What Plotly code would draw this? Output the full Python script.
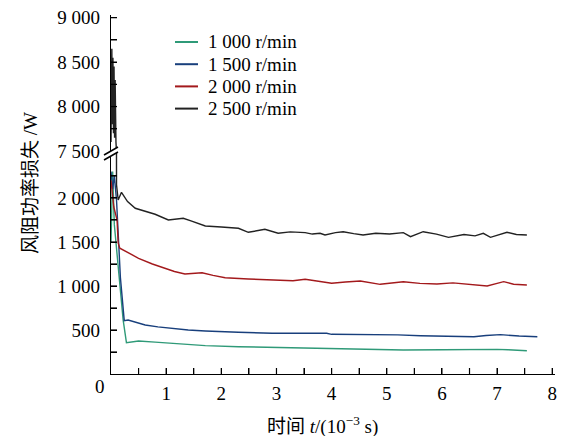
import plotly.graph_objects as go

# ---- data (time in 1e-3 s, power loss in W) ----
t_1000 = [0, 0.03, 0.06, 0.09, 0.16, 0.22, 0.28, 0.32, 0.5, 0.8, 1.1, 1.4, 1.71, 2.31, 2.92, 3.5, 4.0, 4.6, 5.3, 6.0, 6.64, 6.82, 7.0, 7.2, 7.54]
p_1000 = [1500, 2300, 1700, 1480, 1050, 614, 356, 360, 375, 362, 349, 335, 322, 310, 303, 295, 284, 280, 273, 276, 281, 287, 280, 275, 265]

t_1500 = [0, 0.03, 0.06, 0.1, 0.17, 0.24, 0.31, 0.45, 0.62, 0.85, 1.1, 1.4, 1.71, 2.0, 2.31, 2.92, 3.4, 3.91, 4.0, 4.7, 5.2, 5.61, 6.1, 6.58, 6.8, 7.06, 7.4, 7.73]
p_1500 = [2300, 2100, 2250, 1977, 1100, 606, 614, 585, 557, 535, 519, 500, 489, 480, 474, 463, 462, 463, 451, 451, 445, 435, 432, 424, 438, 447, 432, 424]

t_2000 = [0, 0.05, 0.11, 0.13, 0.16, 0.3, 0.5, 0.75, 0.98, 1.15, 1.34, 1.65, 1.85, 2.07, 2.49, 2.8, 3.04, 3.3, 3.52, 3.79, 4.0, 4.25, 4.52, 4.88, 5.1, 5.3, 5.6, 5.91, 6.2, 6.5, 6.82, 7.0, 7.12, 7.3, 7.54]
p_2000 = [2200, 1900, 1750, 1490, 1430, 1380, 1315, 1250, 1201, 1165, 1136, 1151, 1120, 1094, 1080, 1075, 1068, 1060, 1076, 1049, 1031, 1045, 1057, 1019, 1035, 1049, 1030, 1023, 1035, 1015, 1000, 1030, 1049, 1020, 1011]

t_2500 = [0, 0.015, 0.025, 0.035, 0.045, 0.055, 0.065, 0.075, 0.09, 0.1, 0.13, 0.19, 0.3, 0.44, 0.6, 0.8, 1.04, 1.2, 1.31, 1.45, 1.71, 2.0, 2.31, 2.49, 2.65, 2.79, 3.03, 3.25, 3.52, 3.65, 3.79, 3.88, 4.07, 4.21, 4.4, 4.57, 4.8, 5.05, 5.3, 5.43, 5.66, 5.9, 6.12, 6.4, 6.6, 6.75, 6.88, 7.0, 7.18, 7.35, 7.54]
p_2500 = [7600, 8650, 7800, 8550, 7700, 8450, 7650, 8300, 7600, 2150, 1977, 2065, 1960, 1883, 1850, 1815, 1750, 1760, 1769, 1740, 1682, 1670, 1656, 1610, 1630, 1644, 1599, 1615, 1606, 1590, 1599, 1580, 1606, 1617, 1595, 1580, 1600, 1590, 1606, 1560, 1617, 1590, 1553, 1585, 1570, 1599, 1553, 1575, 1610, 1585, 1580]

series_names = ["1 000 r/min", "1 500 r/min", "2 000 r/min", "2 500 r/min"]
series_colors = ["#2f9a78", "#183f7c", "#a3191c", "#222222"]

x_ticks = [0.5, 1, 1.5, 2, 2.5, 3, 3.5, 4, 4.5, 5, 5.5, 6, 6.5, 7, 7.5, 8]
x_text = ["", "1", "", "2", "", "3", "", "4", "", "5", "", "6", "", "7", "", "8"]
y_low_ticks = [250, 500, 750, 1000, 1250, 1500, 1750, 2000, 2250]
y_low_text = ["", "500", "", "1 000", "", "1 500", "", "2 000", ""]
y_high_ticks = [7500, 7750, 8000, 8250, 8500, 8750, 9000]
y_high_text = ["7 500", "", "8 000", "", "8 500", "", "9 000"]

FONT = "Liberation Serif, Times New Roman, Noto Sans CJK SC, serif"
FS = 19

fig = go.Figure()
data = [(t_1000, p_1000), (t_1500, p_1500), (t_2000, p_2000), (t_2500, p_2500)]
for yax in ("y", "y2"):
    for (t, p), name, col in zip(data, series_names, series_colors):
        fig.add_trace(go.Scatter(x=t, y=p, mode="lines", name=name,
                                 line=dict(color=col, width=1.4), xaxis="x", yaxis=yax,
                                 showlegend=False))

# page body adds an 8px offset; layout below given in screenshot pixels
OFF = 8
FW, FH = 565 - OFF, 436 - OFF
L, R, T, B = 111 - OFF, 555 - OFF, 15 - OFF, 374 - OFF
W, H = R - L, B - T
def px(x):
    return (x - OFF - L) / W
def py(y):
    return (B - (y - OFF)) / H

split = py(151)
TICK = 6

axis_common = dict(showline=True, linecolor="black", linewidth=1.3, ticks="inside",
                   ticklen=TICK, tickwidth=1.2, tickcolor="black", showgrid=False,
                   zeroline=False, automargin=False, ticklabeloverflow="allow",
                   tickfont=dict(family=FONT, size=FS, color="black"))

fig.update_layout(
    width=FW, height=FH,
    margin=dict(l=L, r=FW - R, t=T, b=FH - B, autoexpand=False),
    paper_bgcolor="white", plot_bgcolor="white",
    font=dict(family=FONT, color="black"),
    xaxis=dict(domain=[0, 1], range=[0, 8.05], anchor="y", tickmode="array",
               tickvals=x_ticks, ticktext=x_text, ticklabelstandoff=2, **axis_common),
    yaxis=dict(domain=[0, split], range=[0, 2534], anchor="x", tickmode="array",
               tickvals=y_low_ticks, ticktext=y_low_text, ticklabelstandoff=6, **axis_common),
    yaxis2=dict(domain=[split, 1], range=[7500, 9030], anchor="x", tickmode="array",
                tickvals=y_high_ticks, ticktext=y_high_text, ticklabelstandoff=6, **axis_common),
    showlegend=False,
)

# inward tick marks placed through the axes' own scales
tick_line = dict(color="black", width=1.2)
for v in x_ticks:
    fig.add_shape(type="line", xref="x", yref="paper", x0=v, x1=v, y0=0, y1=TICK / H,
                  line=tick_line, layer="above")
for v in y_low_ticks:
    fig.add_shape(type="line", xref="paper", yref="y", x0=0, x1=TICK / W, y0=v, y1=v,
                  line=tick_line, layer="above")
for v in y_high_ticks:
    fig.add_shape(type="line", xref="paper", yref="y2", x0=0, x1=TICK / W, y0=v, y1=v,
                  line=tick_line, layer="above")

# legend (drawn as keys + labels)
for i, (name, col) in enumerate(zip(series_names, series_colors)):
    yc = 42 + 22.2 * i
    fig.add_shape(type="line", xref="paper", yref="paper",
                  x0=px(175), x1=px(198), y0=py(yc), y1=py(yc),
                  line=dict(color=col, width=2))
    fig.add_annotation(text=name, xref="paper", yref="paper", x=px(206), y=py(yc),
                       xanchor="left", yanchor="middle", showarrow=False,
                       font=dict(family=FONT, size=FS, color="black"))

# axis break marker
fig.add_shape(type="path", xref="paper", yref="paper",
              path=f"M {px(104)} {py(155)} L {px(118)} {py(147)} L {px(118)} {py(152)} L {px(104)} {py(160)} Z",
              fillcolor="white", line=dict(width=0), layer="above")
for dy in (0, 5):
    fig.add_shape(type="line", xref="paper", yref="paper",
                  x0=px(104), y0=py(155 + dy), x1=px(118), y1=py(147 + dy),
                  line=dict(color="black", width=1.6), layer="above")

fig.add_annotation(text="0", xref="paper", yref="paper", x=px(100), y=py(386),
                   xanchor="center", yanchor="middle",
                   showarrow=False, font=dict(family=FONT, size=FS, color="black"))
fig.add_annotation(text="风阻功率损失 /W", xref="paper", yref="paper", x=px(30), y=py(183),
                   xanchor="center", yanchor="middle",
                   textangle=-90, showarrow=False,
                   font=dict(family=FONT, size=FS, color="black"))
fig.add_annotation(text="时间 <i>t</i>/(10<sup>−3</sup> s)", xref="paper", yref="paper",
                   x=px(322), y=py(425), xanchor="center", yanchor="middle", showarrow=False,
                   font=dict(family=FONT, size=FS, color="black"))

fig.write_html("out.html")
